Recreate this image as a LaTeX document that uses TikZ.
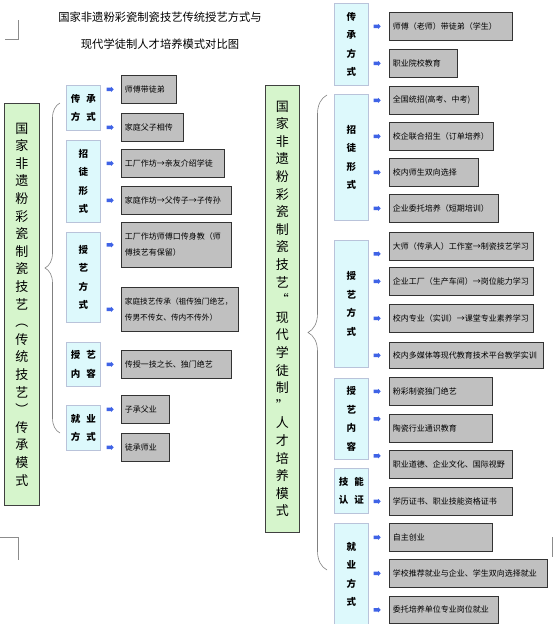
\documentclass[tikz,border=0pt]{standalone}
\usepackage{fontspec}
\setmainfont{Noto Sans CJK SC}
\usetikzlibrary{positioning,shapes.arrows,shadows,decorations.pathreplacing}

\definecolor{mainfill}{HTML}{D6F5CC}
\definecolor{catfill}{HTML}{DDF9FC}
\definecolor{catline}{HTML}{B9C3DA}
\definecolor{itemfill}{HTML}{C0C0C0}
\definecolor{arrowblue}{HTML}{3F63E6}

\tikzset{
  titletext/.style={align=center, font=\fontsize{11.3}{27}\selectfont},
  mainbox/.style={draw=black!75, fill=mainfill, line width=0.9pt, anchor=north west, align=center, inner sep=0pt, font=\fontsize{13}{17.6}\selectfont},
  catbox/.style={draw=catline, fill=catfill, line width=0.6pt, anchor=north west, align=center, minimum width=34pt, inner sep=0pt, font=\bfseries\fontsize{9.5}{18.5}\selectfont},
  itembox/.style={draw=black!80, fill=itemfill, line width=0.6pt, anchor=north west, align=left, text width=#1, minimum height=28pt, inner xsep=3.5pt, inner ysep=2pt, font=\fontsize{8}{16}\selectfont, drop shadow={shadow xshift=0.8pt, shadow yshift=-0.8pt, fill=black!70, opacity=1}},
  arrowmark/.style={single arrow, fill=arrowblue, inner sep=1.5pt, minimum height=7pt, single arrow head extend=0.8pt},
  bracebar/.style={draw=black!50, line width=0.6pt, decorate, decoration={brace, amplitude=#1}},
  marks/.style={draw=black!45, line width=0.6pt}
}

\begin{document}
\begin{tikzpicture}[x=1pt, y=-1pt]
    \useasboundingbox (0,0) rectangle (553,624);

    % Page marks
    \draw [marks] (5,39) -- (18,39) -- (18,20);
    \draw [marks] (0,537) -- (18,537) -- (18,560);
    \draw [marks] (552,537) -- (552,557);

    % Title
    \node [titletext] (title) at (160,31) {国家非遗粉彩瓷制瓷技艺传统授艺方式与\\现代学徒制人才培养模式对比图};

    % Traditional mode
    \node [mainbox, minimum width=35pt, minimum height=402pt] (trad) at (4,103) {国\\家\\非\\遗\\粉\\彩\\瓷\\制\\瓷\\技\\艺\\︵\\传\\统\\技\\艺\\︶\\传\\承\\模\\式};

    \node [catbox, minimum height=45pt] (trad_inherit) at (66,85) {传\hspace{6pt}承\\方\hspace{6pt}式};
    \node [catbox, minimum height=82pt] (trad_recruit) at (66,140) {招\\徒\\形\\式};
    \node [catbox, minimum height=90pt] (trad_teach) at (66,232) {授\\艺\\方\\式};
    \node [catbox, minimum height=44pt] (trad_content) at (66,342) {授\hspace{6pt}艺\\内\hspace{6pt}容};
    \node [catbox, minimum height=45pt] (trad_job) at (66,405) {就\hspace{6pt}业\\方\hspace{6pt}式};

    \node [itembox=48pt] (trad_inherit_a) at (121,75) {师傅带徒弟};
    \node [itembox=55pt] (trad_inherit_b) at (121,113) {家庭父子相传};
    \node [itembox=96pt] (trad_recruit_a) at (121,149) {工厂作坊→亲友介绍学徒};
    \node [itembox=103pt] (trad_recruit_b) at (121,186) {家庭作坊→父传子→子传孙};
    \node [itembox=103pt, minimum height=45pt] (trad_teach_a) at (121,222) {工厂作坊师傅口传身教（师\\傅技艺有保留）};
    \node [itembox=110pt, minimum height=44pt, font=\fontsize{7.7}{16}\selectfont] (trad_teach_b) at (121,287) {家庭技艺传承（祖传独门绝艺，\\传男不传女、传内不传外）};
    \node [itembox=103pt] (trad_content_a) at (121,350) {传授一技之长、独门绝艺};
    \node [itembox=41pt] (trad_job_a) at (121,395) {子承父业};
    \node [itembox=41pt] (trad_job_b) at (121,433) {徒承师业};

    \node [arrowmark, left=7pt of trad_inherit_a] (trad_inherit_a_arr) {};
    \node [arrowmark, left=7pt of trad_inherit_b] (trad_inherit_b_arr) {};
    \node [arrowmark, left=7pt of trad_recruit_a] (trad_recruit_a_arr) {};
    \node [arrowmark, left=7pt of trad_recruit_b] (trad_recruit_b_arr) {};
    \node [arrowmark, left=7pt of trad_teach_a] (trad_teach_a_arr) {};
    \node [arrowmark, left=7pt of trad_teach_b] (trad_teach_b_arr) {};
    \node [arrowmark, left=7pt of trad_content_a] (trad_content_a_arr) {};
    \node [arrowmark, left=7pt of trad_job_a] (trad_job_a_arr) {};
    \node [arrowmark, left=7pt of trad_job_b] (trad_job_b_arr) {};

    \coordinate (trad_brace_top) at (60,103);
    \coordinate (trad_brace_bot) at (60,433);
    \draw [bracebar=15pt] (trad_brace_bot) -- (trad_brace_top);

    % Modern apprenticeship mode
    \node [mainbox, minimum width=34pt, minimum height=447pt] (modern) at (265,85) {国\\家\\非\\遗\\粉\\彩\\瓷\\制\\瓷\\技\\艺\\“\\现\\代\\学\\徒\\制\\”\\人\\才\\培\\养\\模\\式};

    \node [catbox, minimum height=82pt] (mod_inherit) at (334,3) {传\\承\\方\\式};
    \node [catbox, minimum height=126pt] (mod_recruit) at (334,94) {招\\徒\\形\\式};
    \node [catbox, minimum height=127pt] (mod_teach) at (334,240) {授\\艺\\方\\式};
    \node [catbox, minimum height=81pt] (mod_content) at (334,378) {授\\艺\\内\\容};
    \node [catbox, minimum height=45pt] (mod_cert) at (334,468) {技\hspace{6pt}能\\认\hspace{6pt}证};
    \node [catbox, minimum height=102pt] (mod_job) at (334,523) {就\\业\\方\\式};

    \node [itembox=116pt] (mod_inherit_a) at (389,12) {师傅（老师）带徒弟（学生）};
    \node [itembox=61pt] (mod_inherit_b) at (389,49) {职业院校教育};
    \node [itembox=82pt] (mod_recruit_a) at (389,86) {全国统招(高考、中考)};
    \node [itembox=97pt] (mod_recruit_b) at (389,122) {校企联合招生（订单培养）};
    \node [itembox=82pt] (mod_recruit_c) at (389,158) {校内师生双向选择};
    \node [itembox=102pt] (mod_recruit_d) at (389,194) {企业委托培养（短期培训）};
    \node [itembox=137pt] (mod_teach_a) at (389,232) {大师（传承人）工作室→制瓷技艺学习};
    \node [itembox=137pt] (mod_teach_b) at (389,267) {企业工厂（生产车间）→岗位能力学习};
    \node [itembox=137pt] (mod_teach_c) at (389,304) {校内专业（实训）→课堂专业素养学习};
    \node [itembox=147pt, minimum height=26pt] (mod_teach_d) at (389,342) {校内多媒体等现代教育技术平台教学实训};
    \node [itembox=96pt] (mod_content_a) at (389,377) {粉彩制瓷独门绝艺};
    \node [itembox=96pt] (mod_content_b) at (389,414) {陶瓷行业通识教育};
    \node [itembox=116pt] (mod_content_c) at (389,450) {职业道德、企业文化、国际视野};
    \node [itembox=116pt] (mod_cert_a) at (389,487) {学历证书、职业技能资格证书};
    \node [itembox=96pt] (mod_job_a) at (389,523) {自主创业};
    \node [itembox=151pt] (mod_job_b) at (389,559) {学校推荐就业与企业、学生双向选择就业};
    \node [itembox=102pt, minimum height=27pt] (mod_job_c) at (389,596) {委托培养单位专业岗位就业};

    \node [arrowmark, left=8pt of mod_inherit_a] (mod_inherit_a_arr) {};
    \node [arrowmark, left=8pt of mod_inherit_b] (mod_inherit_b_arr) {};
    \node [arrowmark, left=8pt of mod_recruit_a] (mod_recruit_a_arr) {};
    \node [arrowmark, left=8pt of mod_recruit_b] (mod_recruit_b_arr) {};
    \node [arrowmark, left=8pt of mod_recruit_c] (mod_recruit_c_arr) {};
    \node [arrowmark, left=8pt of mod_recruit_d] (mod_recruit_d_arr) {};
    \node [arrowmark, left=8pt of mod_teach_a, yshift=-7.5pt] (mod_teach_a_arr) {};
    \node [arrowmark, left=8pt of mod_teach_b] (mod_teach_b_arr) {};
    \node [arrowmark, left=8pt of mod_teach_c] (mod_teach_c_arr) {};
    \node [arrowmark, left=8pt of mod_teach_d] (mod_teach_d_arr) {};
    \node [arrowmark, left=8pt of mod_content_a] (mod_content_a_arr) {};
    \node [arrowmark, left=8pt of mod_content_b, yshift=9.5pt] (mod_content_b_arr) {};
    \node [arrowmark, left=8pt of mod_content_c, yshift=8.5pt] (mod_content_c_arr) {};
    \node [arrowmark, left=8pt of mod_cert_a] (mod_cert_a_arr) {};
    \node [arrowmark, left=8pt of mod_job_a] (mod_job_a_arr) {};
    \node [arrowmark, left=8pt of mod_job_b] (mod_job_b_arr) {};
    \node [arrowmark, left=8pt of mod_job_c] (mod_job_c_arr) {};

    \coordinate (mod_brace_top) at (327,95);
    \coordinate (mod_brace_bot) at (327,570);
    \draw [bracebar=19pt] (mod_brace_bot) -- (mod_brace_top);
\end{tikzpicture}
\end{document}
